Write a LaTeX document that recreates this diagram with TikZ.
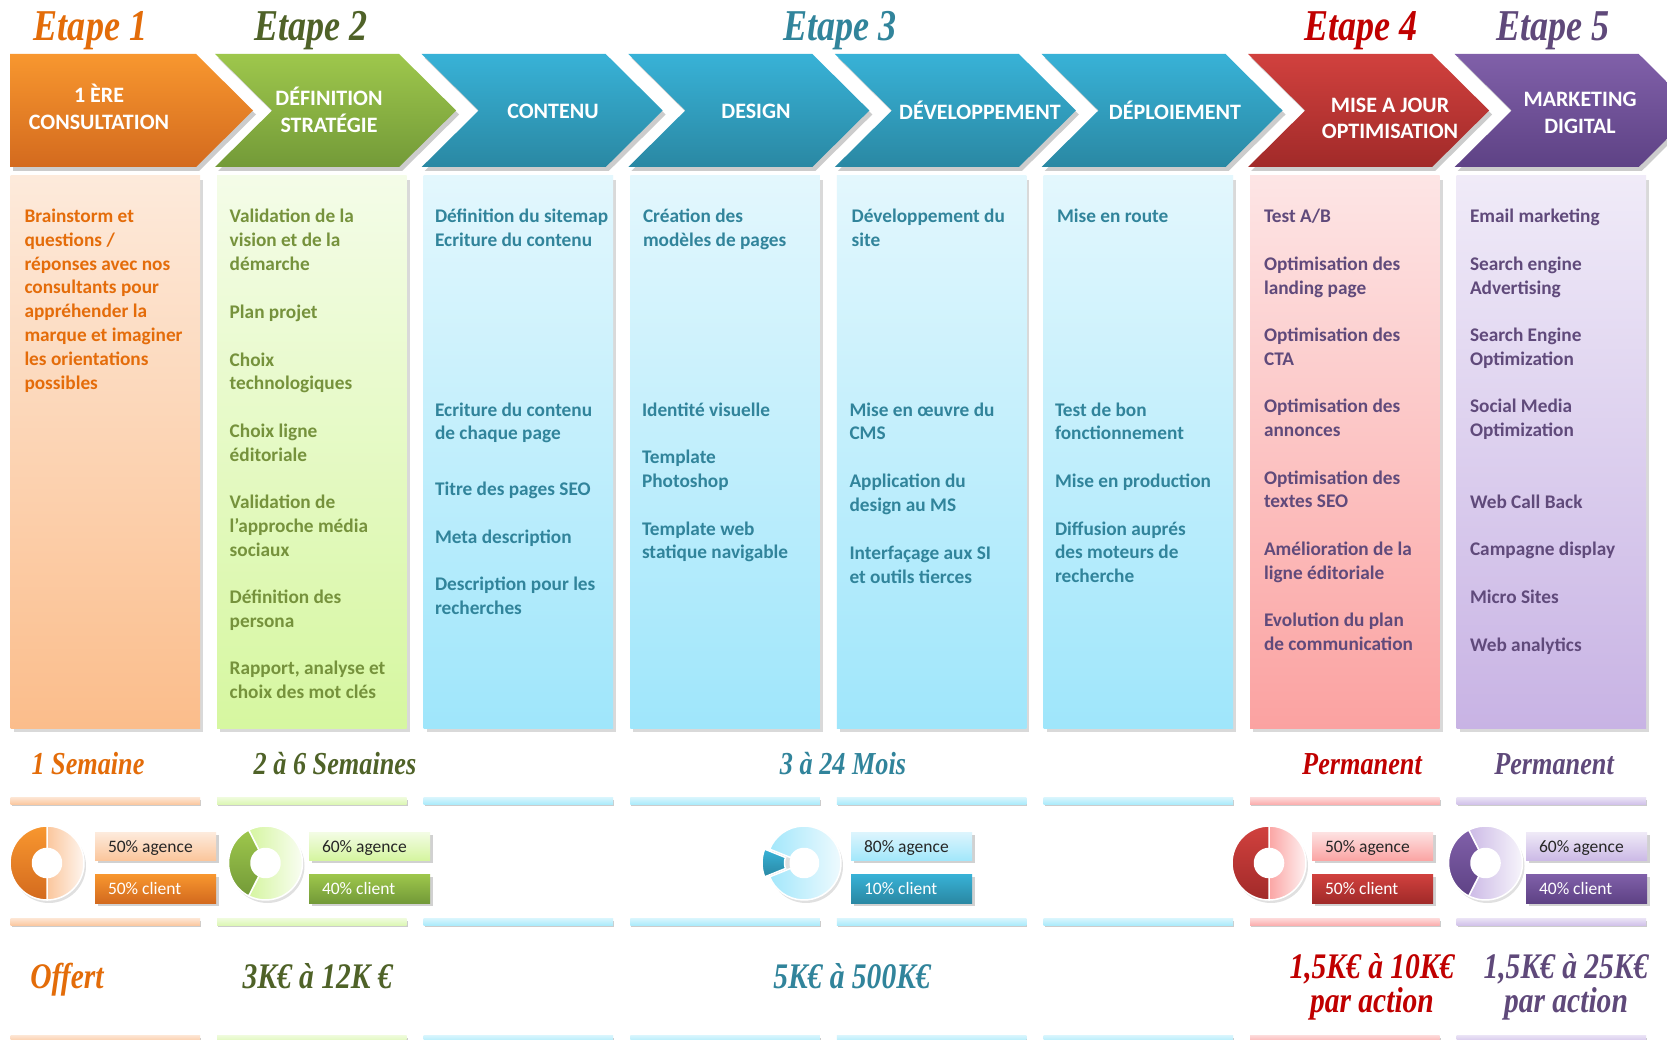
\documentclass[tikz,border=0pt]{standalone}
\usepackage{fontspec}
\setmainfont{Carlito}
\newfontfamily\scriptf[FakeStretch=0.82]{Liberation Serif}
\usetikzlibrary{calc}
\definecolor{oA1}{HTML}{F8972F}\definecolor{oA2}{HTML}{D36A1E}
\definecolor{oB1}{HTML}{FDEADB}\definecolor{oB2}{HTML}{FBBD8B}
\definecolor{oT}{HTML}{E46C0A}\definecolor{oS}{HTML}{E36C09}
\definecolor{oBar}{HTML}{FBC9A2}\definecolor{oL1}{HTML}{FDEBDD}\definecolor{oL2}{HTML}{FBC69C}
\definecolor{gA1}{HTML}{9EC74C}\definecolor{gA2}{HTML}{739A38}
\definecolor{gB1}{HTML}{F4FCE8}\definecolor{gB2}{HTML}{D6F7A0}
\definecolor{gT}{HTML}{76923C}\definecolor{gS}{HTML}{4F6228}
\definecolor{gBar}{HTML}{DDF7B6}\definecolor{gL1}{HTML}{F3FCE5}\definecolor{gL2}{HTML}{D5F5A0}
\definecolor{bA1}{HTML}{38B2D7}\definecolor{bA2}{HTML}{2A88A3}
\definecolor{bB1}{HTML}{E3F7FD}\definecolor{bB2}{HTML}{9FE6FB}
\definecolor{bT}{HTML}{31849B}\definecolor{bS}{HTML}{31849B}
\definecolor{bBar}{HTML}{ADEBFB}\definecolor{bL1}{HTML}{DDF5FD}\definecolor{bL2}{HTML}{A3E7FB}
\definecolor{rA1}{HTML}{D1413E}\definecolor{rA2}{HTML}{A12A29}
\definecolor{rB1}{HTML}{FDE5E5}\definecolor{rB2}{HTML}{FBA2A1}
\definecolor{rT}{HTML}{604A7B}\definecolor{rS}{HTML}{C00000}
\definecolor{rBar}{HTML}{FBB0B0}\definecolor{rL1}{HTML}{FDE2E2}\definecolor{rL2}{HTML}{FBA5A4}
\definecolor{pA1}{HTML}{8060A9}\definecolor{pA2}{HTML}{5E4285}
\definecolor{pB1}{HTML}{F0EBF8}\definecolor{pB2}{HTML}{C8B3E4}
\definecolor{pT}{HTML}{604A7B}\definecolor{pS}{HTML}{5F497A}
\definecolor{pBar}{HTML}{D2C3EA}\definecolor{pL1}{HTML}{EFEAF7}\definecolor{pL2}{HTML}{CCBAE6}
\definecolor{labtext}{HTML}{262626}
\newcommand{\itemlines}[1]{\begin{tabular}[t]{@{}l@{}}#1\end{tabular}}
\newcommand{\clines}[1]{\begin{tabular}[t]{@{}c@{}}#1\end{tabular}}
\newcommand{\ringsec}[7]{\path[#7] plot[domain=#3:#4,samples=40,variable=\t] ({#1+#5*cos(\t)},{#2+#5*sin(\t)}) -- plot[domain=#4:#3,samples=40,variable=\t] ({#1+#6*cos(\t)},{#2+#6*sin(\t)}) -- cycle;}
\newcommand{\labbox}[8]{%
  \fill[black,opacity=0.18] (#2+3,#3+3) rectangle (#2+124,#4+3);
  \shade[top color=#5,bottom color=#6] (#2,#3) rectangle (#2+121,#4);
  \node[lab,text=#7] (#1) at (#2+13,{(#3+#4)/2+6}) {#8};}
\begin{document}
\begin{tikzpicture}[x=1pt,y=-1pt,
  every node/.style={inner sep=0pt,outer sep=0pt},
  head/.style={text=white,font=\fontsize{22}{26.5}\selectfont\bfseries,align=center},
  body/.style={font=\fontsize{19.3}{23.8}\selectfont\bfseries,anchor=base west},
  lab/.style={font=\fontsize{17.5}{20}\selectfont,anchor=base west},
  etape/.style={font=\scriptf\fontsize{44}{48}\selectfont\bfseries\itshape,anchor=base},
  dur/.style={font=\scriptf\fontsize{32}{36}\selectfont\bfseries\itshape,anchor=base},
  cost/.style={font=\scriptf\fontsize{36}{32}\selectfont\bfseries\itshape,anchor=base},
  pieedge/.style={draw=white,line width=1.5pt}]
\useasboundingbox (0,0) rectangle (1667,1040);
\fill[white] (0,0) rectangle (1667,1040);
\clip (0,0) rectangle (1667,1040);

% column boxes and bars
\foreach \k/\f in {0/o,1/g,2/b,3/b,4/b,5/b,6/r,7/p} {
  \pgfmathsetmacro\xl{10.5+206.6*\k}
  \fill[black,opacity=0.15] (\xl+3,180) rectangle (\xl+192.5,732);
  \shade[top color=\f B1,bottom color=\f B2] (\xl,176) rectangle (\xl+189.5,728);
  \foreach \yb in {797,918,1035} {
    \fill[black,opacity=0.2] (\xl+1,\yb+3) rectangle (\xl+190.5,\yb+9);
    \shade[top color=\f Bar!45!white,bottom color=\f Bar] (\xl,\yb) rectangle (\xl+189.5,\yb+7);
  }
}

% chevron arrows
\foreach \k/\f in {0/o,1/g,2/b,3/b,4/b,5/b,6/r,7/p} {
  \pgfmathsetmacro\L{ifthenelse(\k==0,10,8.5+206.6*\k)}
  \pgfmathsetmacro\C{ifthenelse(\k==0,196,\L+184)}
  \pgfmathsetmacro\N{ifthenelse(\k==0,\L,\L+57)}
  \fill[black,opacity=0.2] (\L+3,58) -- (\C+3,58) -- (\C+60,114.5) -- (\C+3,171) -- (\L+3,171) -- (\N+3,114.5) -- cycle;
  \shade[top color=\f A1,bottom color=\f A2] (\L,54) -- (\C,54) -- (\C+57,110.5) -- (\C,167) -- (\L,167) -- (\N,110.5) -- cycle;
}

% arrow labels
\node[head] (h1) at (99,107) {1 ÈRE\\CONSULTATION};
\node[head] (h2) at (329,110) {DÉFINITION\\STRATÉGIE};
\node[head] (h3) at (553,111) {CONTENU};
\node[head] (h4) at (756,111) {DESIGN};
\node[head] (h5) at (980,110) {DÉVELOPPEMENT};
\node[head] (h6) at (1175,110) {DÉPLOIEMENT};
\node[head] (h7) at (1390,118.5) {MISE A JOUR\\OPTIMISATION};
\node[head] (h8) at (1580,113) {MARKETING\\DIGITAL};

% stage titles
\node[etape,text=oS] (e1) at (90.5,41) {Etape 1};
\node[etape,text=gS] (e2) at (311,41) {Etape 2};
\node[etape,text=bS] (e3) at (840,41) {Etape 3};
\node[etape,text=rS] (e4) at (1361,41) {Etape 4};
\node[etape,text=pS] (e5) at (1553,41) {Etape 5};

% column 1
\node[body,text=oT] (a1) at (24.5,222.5) {\itemlines{Brainstorm et\\questions /\\réponses avec nos\\consultants pour\\appréhender la\\marque et imaginer\\les orientations\\possibles}};
% column 2
\node[body,text=gT] (b1) at (229.7,222.5) {\itemlines{Validation de la\\vision et de la\\démarche}};
\node[body,text=gT] (b2) at (229.7,318.2) {\itemlines{Plan projet}};
\node[body,text=gT] (b3) at (229.7,366.1) {\itemlines{Choix\\technologiques}};
\node[body,text=gT] (b4) at (229.7,437.3) {\itemlines{Choix ligne\\éditoriale}};
\node[body,text=gT] (b5) at (229.7,508.5) {\itemlines{Validation de\\l’approche média\\sociaux}};
\node[body,text=gT] (b6) at (229.7,603.2) {\itemlines{Définition des\\persona}};
\node[body,text=gT] (b7) at (229.7,674.4) {\itemlines{Rapport, analyse et\\choix des mot clés}};
% column 3
\node[body,text=bT] (c1) at (435,222.5) {\itemlines{Définition du sitemap\\Ecriture du contenu}};
\node[body,text=bT] (c2) at (435,416) {\itemlines{Ecriture du contenu\\de chaque page}};
\node[body,text=bT] (c3) at (435,495.8) {\itemlines{Titre des pages SEO}};
\node[body,text=bT] (c4) at (435,543.6) {\itemlines{Meta description}};
\node[body,text=bT] (c5) at (435,590.4) {\itemlines{Description pour les\\recherches}};
% column 4
\node[body,text=bT] (d1) at (643,222.5) {\itemlines{Création des\\modèles de pages}};
\node[body,text=bT] (d2) at (642,416) {\itemlines{Identité visuelle}};
\node[body,text=bT] (d3) at (642,463.9) {\itemlines{Template\\Photoshop}};
\node[body,text=bT] (d4) at (642,535.1) {\itemlines{Template web\\statique navigable}};
% column 5
\node[body,text=bT] (f1) at (851.6,222.5) {\itemlines{Développement du\\site}};
\node[body,text=bT] (f2) at (849.5,416) {\itemlines{Mise en œuvre du\\CMS}};
\node[body,text=bT] (f3) at (849.5,487.3) {\itemlines{Application du\\design au MS}};
\node[body,text=bT] (f4) at (849.5,559.6) {\itemlines{Interfaçage aux SI\\et outils tierces}};
% column 6
\node[body,text=bT] (g1) at (1057,222.5) {\itemlines{Mise en route}};
\node[body,text=bT] (g2) at (1055,416) {\itemlines{Test de bon\\fonctionnement}};
\node[body,text=bT] (g3) at (1055,487.3) {\itemlines{Mise en production}};
\node[body,text=bT] (g4) at (1055,535.1) {\itemlines{Diffusion auprés\\des moteurs de\\recherche}};
% column 7
\node[body,text=rT] (k1) at (1264,222.5) {\itemlines{Test A/B}};
\node[body,text=rT] (k2) at (1264,270.4) {\itemlines{Optimisation des\\landing page}};
\node[body,text=rT] (k3) at (1264,341.6) {\itemlines{Optimisation des\\CTA}};
\node[body,text=rT] (k4) at (1264,412.8) {\itemlines{Optimisation des\\annonces}};
\node[body,text=rT] (k5) at (1264,484.1) {\itemlines{Optimisation des\\textes SEO}};
\node[body,text=rT] (k6) at (1264,555.3) {\itemlines{Amélioration de la\\ligne éditoriale}};
\node[body,text=rT] (k7) at (1264,626.5) {\itemlines{Evolution du plan\\de communication}};
% column 8
\node[body,text=pT] (m1) at (1470,222.5) {\itemlines{Email marketing}};
\node[body,text=pT] (m2) at (1470,270.4) {\itemlines{Search engine\\Advertising}};
\node[body,text=pT] (m3) at (1470,341.6) {\itemlines{Search Engine\\Optimization}};
\node[body,text=pT] (m4) at (1470,412.8) {\itemlines{Social Media\\Optimization}};
\node[body,text=pT] (m5) at (1470,508.5) {\itemlines{Web Call Back}};
\node[body,text=pT] (m6) at (1470,555.3) {\itemlines{Campagne display}};
\node[body,text=pT] (m7) at (1470,603.2) {\itemlines{Micro Sites}};
\node[body,text=pT] (m8) at (1470,651) {\itemlines{Web analytics}};

% durations
\node[dur,text=oS] (u1) at (88,774) {1 Semaine};
\node[dur,text=gS] (u2) at (335,774) {2 à 6 Semaines};
\node[dur,text=bS] (u3) at (843,774) {3 à 24 Mois};
\node[dur,text=rS] (u4) at (1362,774) {Permanent};
\node[dur,text=pS] (u5) at (1554,774) {Permanent};

% pies
\foreach \cx in {47,265.5,804,1269,1485.5} {
  \fill[black,opacity=0.12,even odd rule] (\cx+2,866) circle[radius=37] (\cx+2,866) circle[radius=14];
}
\ringsec{47}{863}{-90}{90}{37}{14.5}{left color=oL2,right color=oL1!50!white,pieedge}
\ringsec{47}{863}{90}{270}{37}{14.5}{top color=oA1,bottom color=oA2,pieedge}
\ringsec{265.5}{863}{-117}{117}{37}{14.5}{left color=gL2,right color=gL1!50!white,pieedge}
\ringsec{265.5}{863}{117}{243}{37}{14.5}{top color=gA1,bottom color=gA2,pieedge}
\ringsec{804}{863}{202}{518}{37}{14.5}{left color=bL2,right color=bL1!50!white,pieedge}
\ringsec{799}{863}{158}{202}{37}{14.5}{top color=bA1,bottom color=bA2,pieedge}
\ringsec{1269}{863}{-90}{90}{37}{14.5}{left color=rL2,right color=rL1!50!white,pieedge}
\ringsec{1269}{863}{90}{270}{37}{14.5}{top color=rA1,bottom color=rA2,pieedge}
\ringsec{1485.5}{863}{-117}{117}{37}{14.5}{left color=pL2,right color=pL1!50!white,pieedge}
\ringsec{1485.5}{863}{117}{243}{37}{14.5}{top color=pA1,bottom color=pA2,pieedge}
\foreach \cx in {47,265.5,804,1269,1485.5} {
  \fill[white] (\cx,863) circle[radius=14.5];
}

% share labels
\labbox{s1a}{95}{832}{860}{oL1}{oL2}{labtext}{50\% agence}
\labbox{s1c}{95}{874}{903}{oA1}{oA2}{white}{50\% client}
\labbox{s2a}{309}{832}{860}{gL1}{gL2}{labtext}{60\% agence}
\labbox{s2c}{309}{874}{903}{gA1}{gA2}{white}{40\% client}
\labbox{s3a}{851}{832}{860}{bL1}{bL2}{labtext}{80\% agence}
\labbox{s3c}{851}{874}{903}{bA1}{bA2}{white}{10\% client}
\labbox{s4a}{1312}{832}{860}{rL1}{rL2}{labtext}{50\% agence}
\labbox{s4c}{1312}{874}{903}{rA1}{rA2}{white}{50\% client}
\labbox{s5a}{1526}{832}{860}{pL1}{pL2}{labtext}{60\% agence}
\labbox{s5c}{1526}{874}{903}{pA1}{pA2}{white}{40\% client}

% costs
\node[cost,text=oS] (p1) at (67,988) {Offert};
\node[cost,text=gS] (p2) at (317.6,988) {3K€ à 12K €};
\node[cost,text=bS] (p3) at (852,988) {5K€ à 500K€};
\node[cost,text=rS] (p4) at (1372,978) {\clines{1,5K€ à 10K€\\par action}};
\node[cost,text=pS] (p5) at (1566,978) {\clines{1,5K€ à 25K€\\par action}};
\end{tikzpicture}
\end{document}
